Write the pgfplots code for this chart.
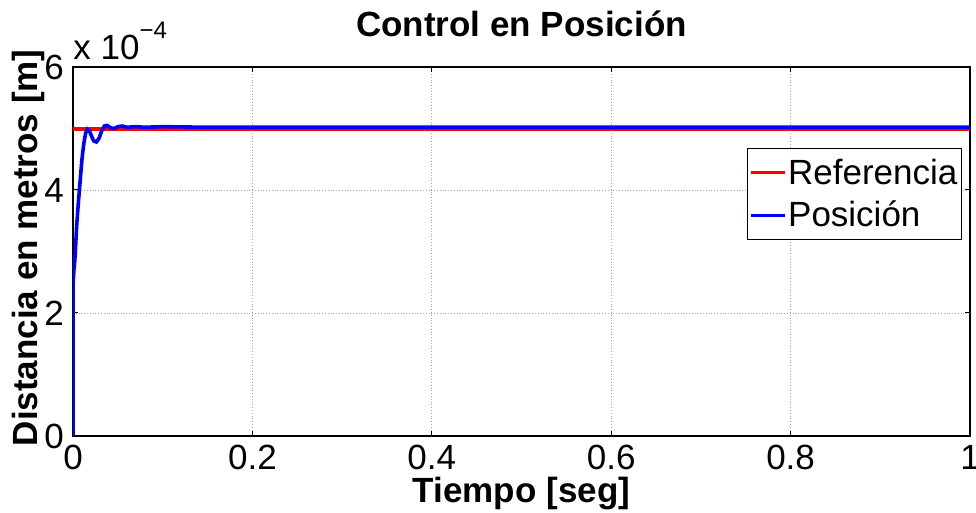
\documentclass[border=0pt]{standalone}
\usepackage{pgfplots}
\pgfplotsset{compat=1.18}
\usepackage{fontspec}
\setmainfont{Liberation Sans}
\newcommand{\fs}{\fontsize{17.5}{21}\selectfont}
\begin{document}
\begin{tikzpicture}
\useasboundingbox (-36.5pt,-38.5pt) rectangle (451.5pt,218pt);
\begin{axis}[
  at={(0,0)}, anchor=south west,
  scale only axis, width=448.5pt, height=184.5pt,
  xmin=0, xmax=1, ymin=0, ymax=6,
  xtick={0,0.2,0.4,0.6,0.8,1},
  xticklabels={0,0.2,0.4,0.6,0.8,1},
  ytick={0,2,4,6},
  yticklabels={0,2,4,6},
  tick align=inside, major tick length=2.5pt,
  grid=major, grid style={densely dotted, gray!70, line width=0.4pt},
  axis line style={line width=0.6pt},
  tick style={line width=0.5pt, black},
  every tick label/.append style={font=\fs},
  xticklabel style={yshift=-1pt},
  yticklabel style={xshift=-1pt},
  /pgf/number format/assume math mode=true,
  every axis title shift=0pt,
  title={\bfseries Control en Posición},
  title style={at={(axis description cs:0.5,1.0813)}, anchor=base, font=\fs},
  xlabel={\bfseries Tiempo [seg]},
  xlabel style={at={(axis description cs:0.5,-0.157)}, anchor=center, font=\fs},
  ylabel={\bfseries Distancia en metros [m]},
  ylabel style={at={(axis description cs:-0.05,0.51)}, anchor=center, font=\fs},
  legend style={at={(axis description cs:0.991,0.78)}, anchor=north east, draw=black, line width=0.5pt,
     font=\fs, inner xsep=1pt, inner ysep=2pt, row sep=1pt, fill=white,
     nodes={inner xsep=1pt, inner ysep=3pt}},
  legend cell align=left,
  legend image code/.code={\draw[#1, line width=1.5pt] (0pt,0pt) -- (17pt,0pt);},
  clip=true,
]
\addplot[red, line width=2pt] coordinates {(0,4.99) (1,4.99)};
\addlegendentry{Referencia}
\addplot[blue, line width=1.8pt] coordinates {
(0,0) (0.0002,2.5) (0.0006,2.6) (0.001,2.7) (0.002,2.85) (0.003,3.1) (0.004,3.4) (0.006,3.8) (0.008,4.15)
(0.010,4.5) (0.012,4.75) (0.014,4.92) (0.016,4.99) (0.018,4.97) (0.020,4.9)
(0.023,4.8) (0.026,4.78) (0.029,4.84) (0.032,4.96) (0.035,5.04) (0.038,5.05)
(0.042,5.01) (0.046,5.0) (0.050,5.03) (0.055,5.04) (0.06,5.02) (0.07,5.03) (0.08,5.02)
(0.1,5.03) (0.15,5.02) (0.3,5.02) (0.5,5.02) (0.7,5.02) (1,5.02)};
\addlegendentry{Posición}
\end{axis}
\node[anchor=base west, font=\fs, inner sep=0pt] at (0pt,188pt) {x 10\raisebox{10.5pt}{\fontsize{12}{14}\selectfont −4}};
\end{tikzpicture}
\end{document}
